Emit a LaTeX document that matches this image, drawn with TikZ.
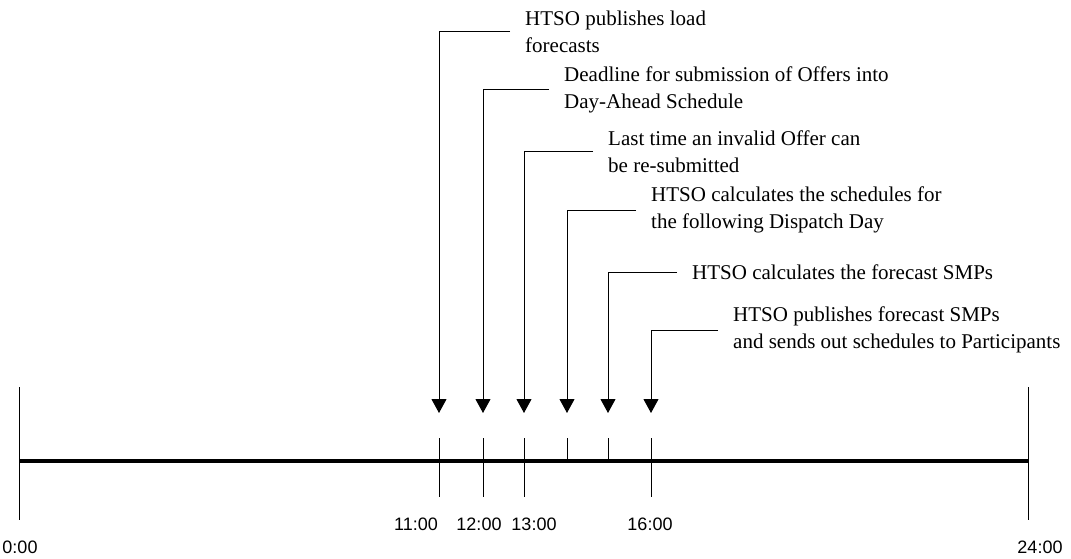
\documentclass[tikz,border=0pt]{standalone}
\usepackage{fontspec}
\setmainfont{Liberation Serif}
\newfontfamily\timefont{Liberation Sans}
\usetikzlibrary{arrows.meta}
\tikzset{
  evt/.style={anchor=west, align=left, inner xsep=15pt, inner ysep=0pt,
    font=\fontsize{21}{27}\selectfont},
  lead/.style={draw=black, line width=1pt,
    -{Triangle[width=15pt,length=14pt]}},
  axisline/.style={line width=3.5pt},
  tick/.style={line width=1pt},
  tlabel/.style={inner sep=0pt, font=\timefont\fontsize{18}{20}\selectfont},
}
\begin{document}
\begin{tikzpicture}[x=1pt,y=-1pt]
\useasboundingbox (0,0) rectangle (1071,559);
% axis
\coordinate (a0) at (19,461);
\coordinate (a24) at (1028,461);
\draw[axisline] (a0) -- (a24);
\draw[tick] (19,387) -- (19,520);
\draw[tick] (1028,387) -- (1028,520);
% ticks
\foreach \n/\x/\y in {1/439/497,2/483/497,3/524/497,4/567/461,5/608/461,6/651/497}{
  \coordinate (top\n) at (\x,438);
  \coordinate (bot\n) at (\x,\y);
  \coordinate (tip\n) at (\x,413);
  \draw[tick] (top\n) -- (bot\n);
}
% time labels
\node[tlabel] (l0) at (20,547) {0:00};
\node[tlabel] (l11) at (416,524) {11:00};
\node[tlabel] (l12) at (479,524) {12:00};
\node[tlabel] (l13) at (534,524) {13:00};
\node[tlabel] (l16) at (650,524) {16:00};
\node[tlabel] (l24) at (1040,547) {24:00};
% events
\node[evt] (e1) at (510,32) {HTSO publishes load\\forecasts};
\node[evt] (e2) at (549,90) {Deadline for submission of Offers into\\Day-Ahead Schedule};
\node[evt] (e3) at (593,152) {Last time an invalid Offer can\\be re-submitted};
\node[evt] (e4) at (636,210) {HTSO calculates the schedules for\\the following Dispatch Day};
\node[evt] (e5) at (677,272) {HTSO calculates the forecast SMPs};
\node[evt] (e6) at (718,330) {HTSO publishes forecast SMPs\\and sends out schedules to Participants};
\foreach \n in {1,...,6}{
  \draw[lead] (e\n.west) -| (tip\n);
}
\end{tikzpicture}
\end{document}
